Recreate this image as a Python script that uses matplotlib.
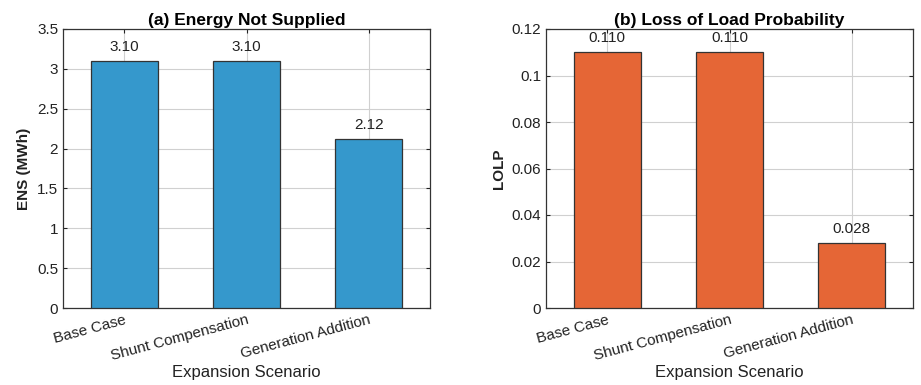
import matplotlib.pyplot as plt

plt.rcParams['font.family'] = ['Liberation Sans', 'DejaVu Sans']

scenarios = ["Base Case", "Shunt Compensation", "Generation Addition"]
ens = [3.10, 3.10, 2.12]
lolp = [0.110, 0.110, 0.028]
ens_labels = ["3.10", "3.10", "2.12"]
lolp_labels = ["0.110", "0.110", "0.028"]

fig = plt.figure(figsize=(9.21, 3.85), dpi=100)
ax1 = fig.add_axes([63/921, 1 - 308/385, 367/921, 279/385])
ax2 = fig.add_axes([546/921, 1 - 308/385, 367/921, 279/385])

x = [1, 2, 3]

def style(ax, vals, labels, color, ylim, yticks, yticklabels, ylabel, title):
    ax.bar(x, vals, width=0.55, color=color, edgecolor="#333333", linewidth=0.9, zorder=3)
    for xi, v, lab in zip(x, vals, labels):
        ax.annotate(lab, (xi, v), xytext=(0, 5), textcoords="offset points",
                    ha="center", va="bottom", fontsize=11, color="#222222", zorder=4)
    ax.set_xlim(0.5, 3.5)
    ax.set_ylim(*ylim)
    ax.set_yticks(yticks)
    ax.set_yticklabels(yticklabels)
    ax.set_xticks(x)
    ax.set_xticklabels(scenarios, rotation=15, ha="right", rotation_mode="anchor")
    ax.grid(True, color="#d0d0d0", linewidth=0.8, zorder=0)
    ax.tick_params(direction="in", top=True, right=True, labelsize=11, colors="#222222", length=3)
    for s in ax.spines.values():
        s.set_color("#333333")
        s.set_linewidth(0.9)
    ax.set_xlabel("Expansion Scenario", fontsize=12, color="#222222", labelpad=1)
    ax.set_ylabel(ylabel, fontsize=11, fontweight="bold", color="#222222")
    ax.set_title(title, fontsize=12.5, fontweight="bold", pad=3)

style(ax1, ens, ens_labels, "#3598CC", (0, 3.5), [0, 0.5, 1, 1.5, 2, 2.5, 3, 3.5],
      ["0", "0.5", "1", "1.5", "2", "2.5", "3", "3.5"], "ENS (MWh)", "(a) Energy Not Supplied")
style(ax2, lolp, lolp_labels, "#E56636", (0, 0.12), [0, 0.02, 0.04, 0.06, 0.08, 0.1, 0.12],
      ["0", "0.02", "0.04", "0.06", "0.08", "0.1", "0.12"], "LOLP", "(b) Loss of Load Probability")

fig.savefig("out.png", dpi=100)
